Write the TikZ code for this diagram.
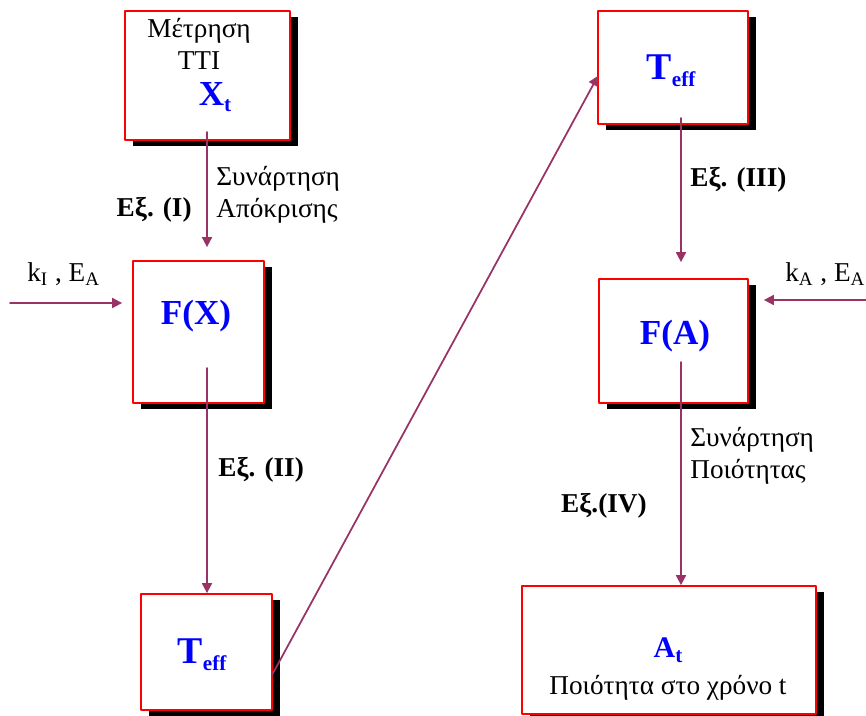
\documentclass[tikz,border=0pt]{standalone}
\usepackage{fontspec}
\setmainfont{Liberation Serif}
\usetikzlibrary{arrows.meta,shadows,calc}

\definecolor{flowpurple}{RGB}{153,51,102}
\newcommand{\varsub}[2]{#1\raisebox{-0.4ex}{\fontsize{12}{12}\selectfont #2}}

\tikzset{
  box/.style={draw=red, line width=1pt, fill=white, inner sep=0pt,
    drop shadow={shadow xshift=0.16cm, shadow yshift=-0.12cm, fill=black, opacity=1}},
  flow/.style={draw=flowpurple, line width=1pt, -{Triangle[length=2mm,width=2mm]}},
  txt/.style={inner sep=0pt, font=\fontsize{15.5}{18}\selectfont},
  eqtxt/.style={inner sep=0pt, font=\fontsize{15.5}{18}\selectfont\bfseries},
  var/.style={inner sep=0pt, text=blue, font=\fontsize{20}{24}\selectfont\bfseries}
}

\begin{document}
\begin{tikzpicture}[x=0.02cm, y=-0.02cm, line cap=round, line join=round]
  \useasboundingbox (0,0) rectangle (866,716);

  % Boxes
  \node[box, minimum width=3.30cm, minimum height=2.58cm] (tti)   at (207.5,75.5) {};
  \node[box, minimum width=2.62cm, minimum height=2.84cm] (fx)    at (198.5,332)  {};
  \node[box, minimum width=2.62cm, minimum height=2.32cm] (teffa) at (206.5,652)  {};
  \node[box, minimum width=3.00cm, minimum height=2.26cm] (teffb) at (673,67.5)   {};
  \node[box, minimum width=2.98cm, minimum height=2.48cm] (fa)    at (673.5,341)  {};
  \node[box, minimum width=5.88cm, minimum height=2.56cm] (at)    at (669,650)    {};

  % Box contents
  \node[txt, align=center] (ttitxt) at (199,44) {Μέτρηση\\TTI};
  \node[var] (xt)    at (215,97)  {\varsub{X}{t}};
  \node[var] (fxtxt) at (196,316) {F(X)};
  \node[var, font=\fontsize{21.5}{24}\selectfont\bfseries] (teffatxt) at (202,655) {\varsub{T}{eff}};
  \node[var, font=\fontsize{21.5}{24}\selectfont\bfseries] (teffbtxt) at (671,71)  {\varsub{T}{eff}};
  \node[var] (fatxt) at (675,336) {F(A)};
  \node[var, font=\fontsize{17}{20}\selectfont\bfseries] (attxt) at (668,650) {\varsub{A}{t}};
  \node[txt] (atlabel) at (668,688) {Ποιότητα στο χρόνο t};

  % Connector ends
  \coordinate (ttiout) at (207,132);
  \coordinate (fxout)  at (207,368);
  \coordinate (diagin) at (272,675);
  \coordinate (teffout) at (681,118);
  \coordinate (faout)  at (681,362);
  \coordinate (kin)    at (10,303);
  \coordinate (kain)   at (866,300);

  % Arrows
  \draw[flow, shorten >=0.26cm] (ttiout) -- (ttiout |- fx.north);
  \draw[flow] (fxout) -- (fxout |- teffa.north);
  \draw[flow, shorten >=-0.04cm] (diagin) -- ($(teffb.west)+(0,10)$);
  \draw[flow, shorten >=0.32cm] (teffout) -- (teffout |- fa.north);
  \draw[flow] (faout) -- (faout |- at.north);
  \draw[flow, shorten >=0.2cm] (kin) -- (kin -| fx.west);
  \draw[flow, shorten >=0.3cm] (kain) -- (kain -| fa.east);

  % Labels
  \node[txt, align=left, anchor=west] (respfn) at (216,195) {Συνάρτηση\\Απόκρισης};
  \node[eqtxt, anchor=east] (eq1) at (192,210) {Εξ. (I)};
  \node[eqtxt, anchor=west] (eq2) at (218,470) {Εξ. (II)};
  \node[eqtxt, anchor=west] (eq3) at (690,180) {Εξ. (III)};
  \node[txt, align=left, anchor=west] (qualfn) at (690,456) {Συνάρτηση\\Ποιότητας};
  \node[eqtxt, anchor=east] (eq4) at (647,506) {Εξ.(IV)};
  \node[txt, anchor=west] (kilabel) at (27,274) {k\textsubscript{I} , E\textsubscript{A}};
  \node[txt, anchor=west] (kalabel) at (785,274) {k\textsubscript{A} , E\textsubscript{A}};
\end{tikzpicture}
\end{document}
